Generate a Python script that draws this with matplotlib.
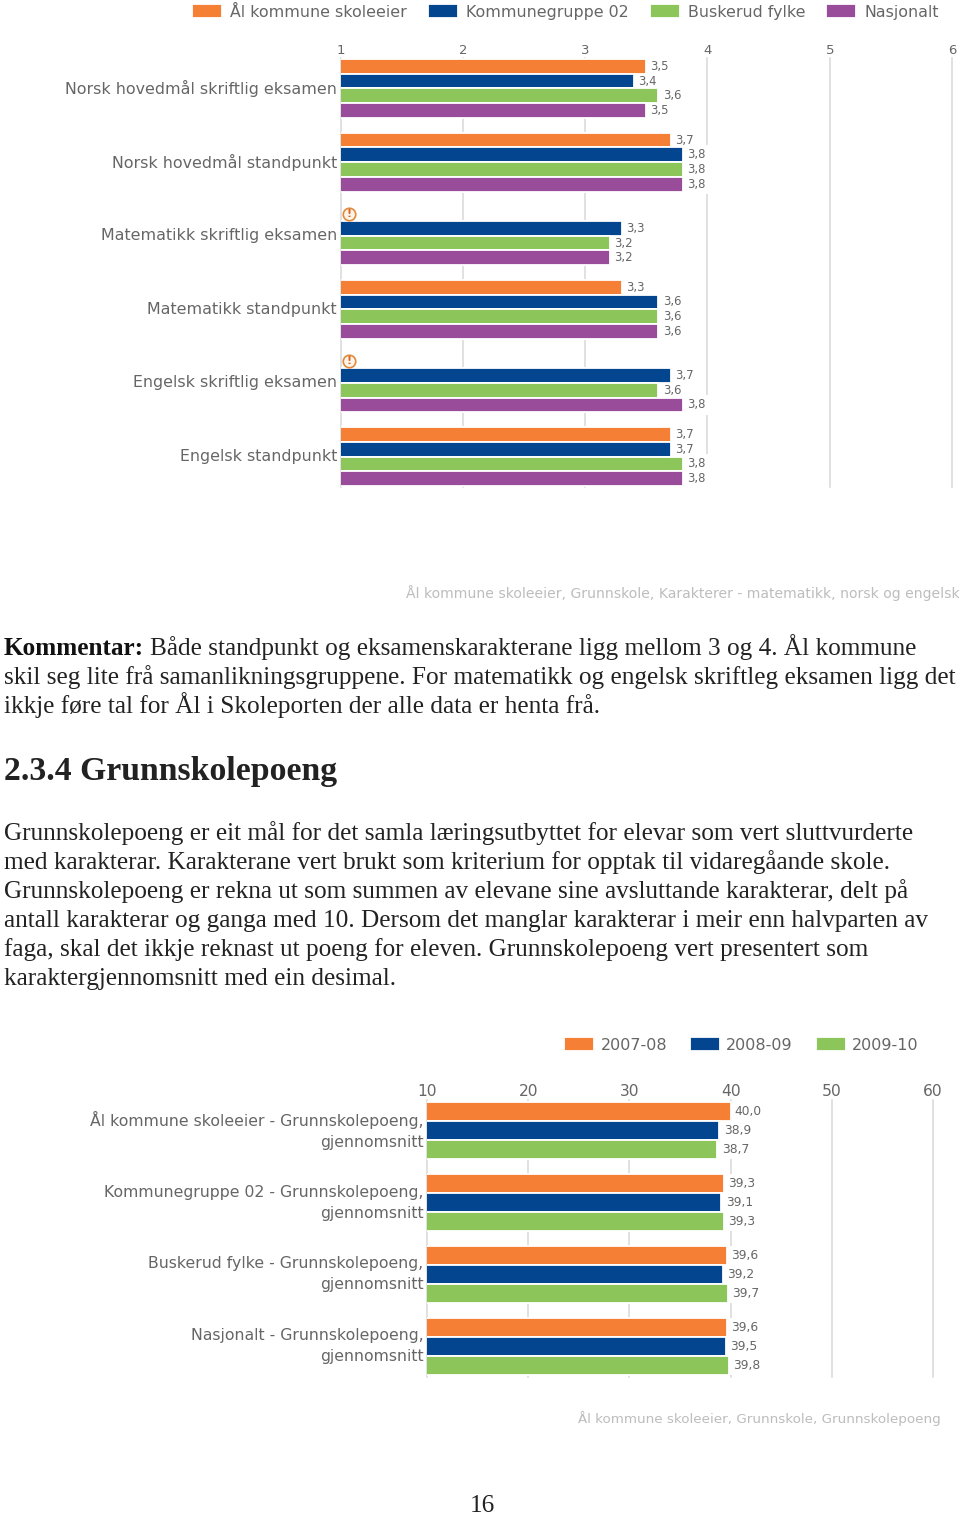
import matplotlib
matplotlib.use('Agg')
import numpy as np
import matplotlib.pyplot as plt

W = 960
H = 1515

grade_subjects = ['Norsk hovedmål skriftlig eksamen', 'Norsk hovedmål standpunkt',
                  'Matematikk skriftlig eksamen', 'Matematikk standpunkt',
                  'Engelsk skriftlig eksamen', 'Engelsk standpunkt']
grade_ticks = [1, 2, 3, 4, 5, 6]
grade_names = ['Ål kommune skoleeier', 'Kommunegruppe 02', 'Buskerud fylke', 'Nasjonalt']
aal_grades = [3.5, 3.7, None, 3.3, None, 3.7]
gruppe_grades = [3.4, 3.8, 3.3, 3.6, 3.7, 3.7]
buskerud_grades = [3.6, 3.8, 3.2, 3.6, 3.6, 3.8]
nasjonalt_grades = [3.5, 3.8, 3.2, 3.6, 3.8, 3.8]

point_groups = ['Ål kommune skoleeier - Grunnskolepoeng,\ngjennomsnitt',
                'Kommunegruppe 02 - Grunnskolepoeng,\ngjennomsnitt',
                'Buskerud fylke - Grunnskolepoeng,\ngjennomsnitt',
                'Nasjonalt - Grunnskolepoeng,\ngjennomsnitt']
point_ticks = [10, 20, 30, 40, 50, 60]
point_years = ['2007-08', '2008-09', '2009-10']
points_0708 = [40.0, 39.3, 39.6, 39.6]
points_0809 = [38.9, 39.1, 39.2, 39.5]
points_0910 = [38.7, 39.3, 39.7, 39.8]

colors = ['#f58035', '#03468f', '#8cc65a', '#984c9a']
grey = '#666666'

comment = ['Både standpunkt og eksamenskarakterane ligg mellom 3 og 4. Ål kommune',
           'skil seg lite frå samanlikningsgruppene. For matematikk og engelsk skriftleg eksamen ligg det',
           'ikkje føre tal for Ål i Skoleporten der alle data er henta frå.']
body = ['Grunnskolepoeng er eit mål for det samla læringsutbyttet for elevar som vert sluttvurderte',
        'med karakterar. Karakterane vert brukt som kriterium for opptak til vidaregåande skole.',
        'Grunnskolepoeng er rekna ut som summen av elevane sine avsluttande karakterar, delt på',
        'antall karakterar og ganga med 10. Dersom det manglar karakterar i meir enn halvparten av',
        'faga, skal det ikkje reknast ut poeng for eleven. Grunnskolepoeng vert presentert som',
        'karaktergjennomsnitt med ein desimal.']


def make_axes(left, right, top, bottom):
    return fig.add_axes([left / W, 1 - bottom / H, (right - left) / W, (bottom - top) / H])


def bar_chart(ax, cats, ticks, series, names, step, ylim, lab_size, tick_pad):
    n = len(series)
    for i, vals in enumerate(series):
        ypos = []
        widths = []
        for j, v in enumerate(vals):
            if v is not None:
                ypos.append(j + (i - (n - 1) / 2) * step)
                widths.append(v)
        # bars stay above the white boxes of the labels
        ax.barh(ypos, widths, height=step, color=colors[i], edgecolor='white',
                linewidth=1.3, label=names[i], zorder=4)
        for y, v in zip(ypos, widths):
            ax.annotate(f'{v:.1f}'.replace('.', ','), (v, y), xytext=(3, 0),
                        textcoords='offset points', va='center', ha='left',
                        fontsize=lab_size, color=grey, zorder=3,
                        bbox=dict(fc='white', ec='none', pad=2.2))
    ax.set_xlim(ticks[0], ticks[-1])
    ax.set_ylim(*ylim)
    ax.set_yticks(range(len(cats)))
    ax.set_yticklabels(cats, fontsize=tick_pad[0], color=grey, linespacing=1.5, va='center')
    ax.set_xticks(ticks)
    ax.xaxis.tick_top()
    ax.tick_params(axis='both', length=0, colors=grey)
    ax.tick_params(axis='x', labelsize=tick_pad[1], pad=tick_pad[2])
    ax.tick_params(axis='y', pad=tick_pad[3])
    ax.grid(axis='x', color='#d8d8d8', linewidth=1.1, zorder=1)
    ax.set_axisbelow(True)
    for gl in ax.get_xgridlines():
        gl.set_clip_on(False)
    for s in ax.spines.values():
        s.set_visible(False)
    ax.patch.set_alpha(0)


fig = plt.figure(figsize=(W / 100, H / 100), dpi=100, facecolor='white')

# first chart, grades
ax1 = make_axes(340.5, 952, 58, 487)
bar_chart(ax1, grade_subjects, grade_ticks,
          [aal_grades, gruppe_grades, buskerud_grades, nasjonalt_grades],
          grade_names, 0.2, (5.414, -0.414), 8.4, (11.45, 9.5, 1, 2.5))

# warning marks where Ål has no number
for j, v in enumerate(aal_grades):
    if v is None:
        ax1.plot([1.07], [j - 0.3], marker='o', ms=9, mfc='#fdf3e8', mec='#e08a3c',
                 mew=1.2, zorder=5, clip_on=False)
        ax1.text(1.07, j - 0.3, '!', color='#d9661f', fontsize=8, fontweight='bold',
                 ha='center', va='center', zorder=6)

handles, labels = ax1.get_legend_handles_labels()
fig.legend(handles, labels, loc='center left', bbox_to_anchor=(192 / W, 1 - 12 / H), ncol=4,
           frameon=False, fontsize=11.4, labelcolor=grey, handlelength=1.9, handleheight=1.0,
           handletextpad=0.5, columnspacing=1.33, borderpad=0, borderaxespad=0)
fig.text(960 / W, 1 - 593 / H, 'Ål kommune skoleeier, Grunnskole, Karakterer - matematikk, norsk og engelsk',
         ha='right', va='center', fontsize=10.05, color='#bdbdbd')

# text between the charts
serif = 'Liberation Serif'
fig.text(4 / W, 1 - 655 / H, 'Kommentar:', family=serif, fontsize=18.2, fontweight='bold', color='#111111')
fig.text(150 / W, 1 - 655 / H, comment[0], family=serif, fontsize=18.2, color='#222222')
for i, line in enumerate(comment[1:]):
    fig.text(4 / W, 1 - (684 + 29 * i) / H, line, family=serif, fontsize=18.2, color='#222222')
fig.text(4 / W, 1 - 780 / H, '2.3.4 Grunnskolepoeng', family=serif, fontsize=24.3, fontweight='bold',
         color='#222222')
for i, line in enumerate(body):
    fig.text(4 / W, 1 - (840 + 29.1 * i) / H, line, family=serif, fontsize=18.2, color='#222222')

# second chart, points
ax2 = make_axes(427, 933, 1100, 1377)
bar_chart(ax2, point_groups, point_ticks, [points_0708, points_0809, points_0910],
          point_years, 0.264, (3.425, -0.425), 8.8, (11.3, 11.2, 1, 2.5))
handles, labels = ax2.get_legend_handles_labels()
fig.legend(handles, labels, loc='center left', bbox_to_anchor=(564 / W, 1 - 1045 / H), ncol=3,
           frameon=False, fontsize=11.5, labelcolor=grey, handlelength=1.88, handleheight=1.0,
           handletextpad=0.4, columnspacing=1.43, borderpad=0, borderaxespad=0)
fig.text(941 / W, 1 - 1419 / H, 'Ål kommune skoleeier, Grunnskole, Grunnskolepoeng',
         ha='right', va='center', fontsize=9.7, color='#bdbdbd')

fig.text(482 / W, 1 - 1512 / H, '16', family=serif, fontsize=18.2, ha='center', color='#222222')

fig.savefig('out.png', dpi=100)
